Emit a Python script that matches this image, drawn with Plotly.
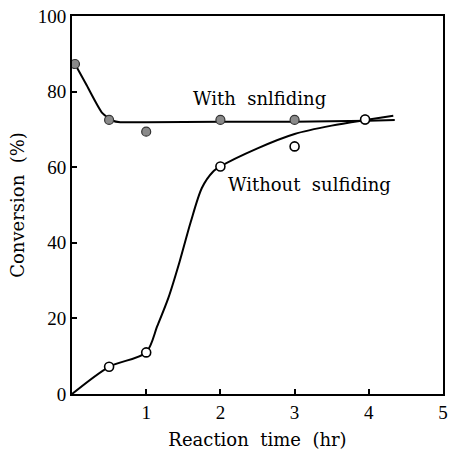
import plotly.graph_objects as go

# Measured points
with_x = [0.04, 0.5, 1.0, 2.0, 3.0, 3.95]
with_y = [87.3, 72.5, 69.4, 72.5, 72.5, 72.6]
without_x = [0.5, 1.0, 2.0, 3.0, 3.95]
without_y = [7.2, 11.0, 60.2, 65.5, 72.6]

# Fitted curves
with_curve_x = [0.04, 0.2, 0.41, 0.55, 0.65, 1.0, 2.0, 3.0, 4.0, 4.35]
with_curve_y = [87.3, 81.6, 74.3, 72.3, 71.9, 71.9, 72.0, 72.0, 72.3, 72.5]
without_curve_x = [0.0, 0.5, 1.0, 1.15, 1.3, 1.45, 1.6, 1.75, 1.9, 2.0, 2.5, 3.0, 3.5, 4.0, 4.33]
without_curve_y = [0.0, 7.2, 11.0, 18.0, 25.5, 35.0, 45.5, 54.5, 58.8, 60.2, 65.0, 68.8, 71.0, 72.6, 73.6]

x_ticks = [1, 2, 3, 4, 5]
y_ticks = [0, 20, 40, 60, 80, 100]

serif = "DejaVu Serif"
tickfont = dict(family="Liberation Serif", size=19, color="black")

fig = go.Figure()
fig.add_trace(go.Scatter(x=with_curve_x, y=with_curve_y, mode="lines",
                         line=dict(color="black", width=2, shape="spline", smoothing=0.6),
                         showlegend=False, hoverinfo="skip"))
fig.add_trace(go.Scatter(x=without_curve_x, y=without_curve_y, mode="lines",
                         line=dict(color="black", width=2, shape="spline", smoothing=0.8),
                         showlegend=False, hoverinfo="skip"))
fig.add_trace(go.Scatter(x=with_x, y=with_y, mode="markers",
                         marker=dict(size=9, color="#8a8a8a", line=dict(color="#333333", width=1.2)),
                         showlegend=False))
fig.add_trace(go.Scatter(x=without_x, y=without_y, mode="markers",
                         marker=dict(size=9, color="white", line=dict(color="black", width=1.6)),
                         showlegend=False))

fig.add_annotation(x=1.6, y=78.2, xref="x", yref="y", text="With  snlfiding",
                   showarrow=False, xanchor="left", yanchor="middle",
                   font=dict(family=serif, size=18, color="black"))
fig.add_annotation(x=2.08, y=55.4, xref="x", yref="y", text="Without  sulfiding",
                   showarrow=False, xanchor="left", yanchor="middle",
                   font=dict(family=serif, size=18, color="black"))

fig.update_layout(
    width=454, height=458,
    margin=dict(l=72, r=6, t=15, b=64),
    paper_bgcolor="white", plot_bgcolor="white",
)
fig.update_xaxes(range=[0, 5], tickvals=x_ticks, ticktext=[str(v) for v in x_ticks],
                 showgrid=False, zeroline=False, showline=True, linecolor="black", linewidth=2,
                 mirror=True, ticks="inside", ticklen=5, tickwidth=1.5, tickcolor="black",
                 tickfont=tickfont,
                 title=dict(text="Reaction  time  (hr)", font=dict(family=serif, size=18, color="black"),
                            standoff=12))
fig.update_yaxes(range=[0, 100], tickvals=y_ticks, ticktext=[str(v) for v in y_ticks],
                 showgrid=False, zeroline=False, showline=True, linecolor="black", linewidth=2,
                 mirror=True, ticks="inside", ticklen=5, tickwidth=1.5, tickcolor="black",
                 tickfont=tickfont,
                 title=dict(text="Conversion  (%)", font=dict(family=serif, size=18, color="black"),
                            standoff=8))

fig.write_html("out.html")
